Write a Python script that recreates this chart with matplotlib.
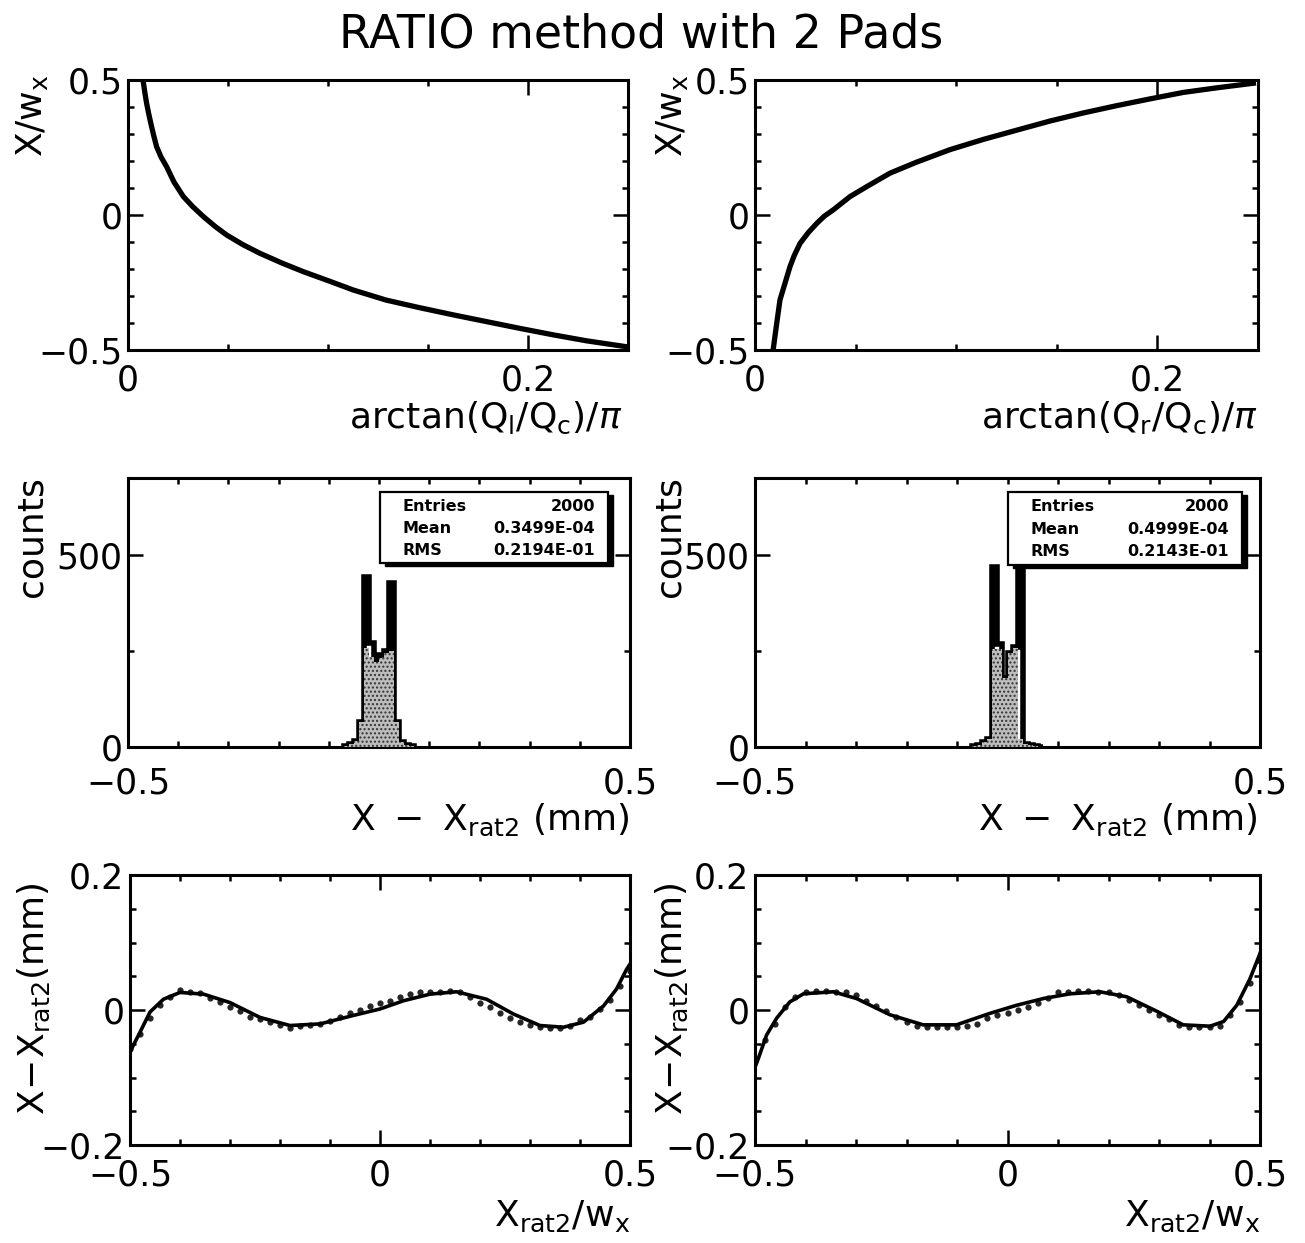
import matplotlib
matplotlib.use("Agg")
import matplotlib.pyplot as plt
from matplotlib.ticker import MultipleLocator, FixedLocator, FuncFormatter
from matplotlib.patches import Rectangle

# ---------------- data ----------------
# top-left: X/w_x vs arctan(Ql/Qc)/pi
tl_x = [0.0077, 0.0085, 0.0093, 0.0105, 0.0118, 0.0130, 0.0143, 0.0165, 0.0193, 0.0230, 0.0277,
        0.0325, 0.0377, 0.0435, 0.0493, 0.0575, 0.0660, 0.0770, 0.0877, 0.1000, 0.1127,
        0.1290, 0.1450, 0.1627, 0.1800, 0.1960, 0.2127, 0.2293, 0.2493]
tl_y = [0.490, 0.450, 0.414, 0.370, 0.327, 0.290, 0.253, 0.215, 0.179, 0.122, 0.068,
        0.030, -0.006, -0.042, -0.074, -0.110, -0.142, -0.178, -0.210, -0.243, -0.278,
        -0.315, -0.342, -0.370, -0.396, -0.420, -0.444, -0.466, -0.488]
# top-right: X/w_x vs arctan(Qr/Qc)/pi
tr_x = [0.0091, 0.0100, 0.0108, 0.0116, 0.0124, 0.0136, 0.0149, 0.0174, 0.0195, 0.0224, 0.0265,
        0.0307, 0.0345, 0.0389, 0.0472, 0.0555, 0.0671, 0.0804, 0.0969, 0.1135, 0.1300,
        0.1466, 0.1632, 0.1798, 0.1963, 0.2129, 0.2295, 0.2477]
tr_y = [-0.495, -0.445, -0.401, -0.358, -0.315, -0.285, -0.253, -0.191, -0.150, -0.105, -0.065,
        -0.031, -0.004, 0.019, 0.068, 0.105, 0.155, 0.196, 0.242, 0.280, 0.314,
        0.348, 0.378, 0.405, 0.430, 0.454, 0.471, 0.488]

# middle row histograms (bin edges in X - Xrat2 mm)
hist_edges = [-0.07, -0.06, -0.05, -0.04, -0.03, -0.02, -0.01, 0.00,
              0.01, 0.02, 0.03, 0.04, 0.05, 0.06, 0.07]
ml_total = [3, 8, 15, 65, 443, 270, 225, 240, 250, 427, 65, 12, 6, 3]
ml_fill = [3, 8, 15, 65, 258, 235, 222, 232, 245, 250, 65, 12, 6, 3]
mr_total = [3, 6, 12, 22, 469, 268, 180, 245, 260, 520, 8, 5, 3, 1]
mr_fill = [3, 6, 12, 22, 255, 255, 180, 245, 258, 20, 8, 5, 3, 1]
ml_stats = [("Entries", "2000"), ("Mean", "0.3499E-04"), ("RMS", "0.2194E-01")]
mr_stats = [("Entries", "2000"), ("Mean", "0.4999E-04"), ("RMS", "0.2143E-01")]

# bottom row: fit curves and data points
bl_fit_x = [-0.500, -0.480, -0.460, -0.433, -0.400, -0.353, -0.300, -0.240, -0.180, -0.120,
            -0.053, 0.000, 0.047, 0.100, 0.153, 0.213, 0.267, 0.320, 0.367, 0.407, 0.447,
            0.473, 0.493, 0.500]
bl_fit_y = [-0.062, -0.033, -0.003, 0.016, 0.026, 0.0235, 0.011, -0.011, -0.023, -0.0206,
            -0.008, 0.0015, 0.0137, 0.0235, 0.027, 0.016, -0.006, -0.023, -0.0255, -0.018,
            0.006, 0.031, 0.060, 0.068]
br_fit_x = [-0.500, -0.493, -0.477, -0.457, -0.431, -0.404, -0.345, -0.299, -0.233, -0.167,
            -0.101, -0.035, 0.018, 0.071, 0.124, 0.183, 0.236, 0.296, 0.348, 0.401, 0.428,
            0.454, 0.480, 0.497, 0.500]
br_fit_y = [-0.085, -0.071, -0.037, -0.012, 0.012, 0.024, 0.027, 0.017, -0.007, -0.022,
            -0.022, -0.005, 0.007, 0.017, 0.024, 0.027, 0.0196, -0.002, -0.022, -0.024, -0.017,
            0.007, 0.046, 0.078, 0.084]

pts_x = [-0.50, -0.48, -0.46, -0.44, -0.42, -0.40, -0.38, -0.36, -0.34, -0.32, -0.30,
         -0.28, -0.26, -0.24, -0.22, -0.20, -0.18, -0.16, -0.14, -0.12, -0.10,
         -0.08, -0.06, -0.04, -0.02, 0.00, 0.02, 0.04, 0.06, 0.08, 0.10,
         0.12, 0.14, 0.16, 0.18, 0.20, 0.22, 0.24, 0.26, 0.28, 0.30,
         0.32, 0.34, 0.36, 0.38, 0.40, 0.42, 0.44, 0.46, 0.48, 0.50]
bl_pts_y = [-0.058, -0.035, -0.012, 0.008, 0.020, 0.030, 0.027, 0.025, 0.018, 0.012, 0.005,
            -0.002, -0.010, -0.014, -0.018, -0.022, -0.026, -0.024, -0.022, -0.020, -0.016,
            -0.010, -0.004, 0.000, 0.006, 0.010, 0.014, 0.020, 0.024, 0.026, 0.027,
            0.027, 0.028, 0.026, 0.020, 0.010, 0.004, -0.004, -0.012, -0.018, -0.022,
            -0.025, -0.026, -0.026, -0.024, -0.015, -0.010, 0.002, 0.015, 0.035, 0.058]
br_pts_y = [-0.075, -0.045, -0.020, 0.004, 0.020, 0.027, 0.028, 0.028, 0.027, 0.026, 0.022,
            0.014, 0.006, -0.002, -0.010, -0.018, -0.024, -0.025, -0.025, -0.025, -0.025,
            -0.024, -0.020, -0.012, -0.008, -0.004, 0.000, 0.004, 0.010, 0.018, 0.026,
            0.027, 0.028, 0.028, 0.027, 0.026, 0.022, 0.015, 0.008, 0.000, -0.008,
            -0.014, -0.022, -0.025, -0.025, -0.025, -0.024, -0.008, 0.012, 0.040, 0.072]

# ---------------- figure ----------------
W, H = 1305, 1243
fig = plt.figure(figsize=(W / 100, H / 100), dpi=100)
plt.rcParams['mathtext.fontset'] = 'dejavusans'

def px_ax(l, r, t, b):
    return fig.add_axes([l / W, 1 - b / H, (r - l) / W, (b - t) / H])

def fmt(v, pos):
    s = '%g' % round(v, 6)
    return s.replace('-', '\u2212')

TICKFS = 25

def style(ax, xpad=10):
    for sp in ax.spines.values():
        sp.set_linewidth(2.2)
    ax.tick_params(which='both', direction='in', top=True, right=True, width=1.8,
                   labelsize=TICKFS)
    ax.tick_params(which='major', length=11)
    ax.tick_params(which='minor', length=4.5)
    ax.tick_params(axis='x', which='major', pad=xpad)
    ax.tick_params(axis='y', which='major', pad=4)
    ax.xaxis.set_major_formatter(FuncFormatter(fmt))
    ax.yaxis.set_major_formatter(FuncFormatter(fmt))

def ftext(px, py, s, **kw):
    fig.text(px / W, 1 - py / H, s, **kw)

LBLFS = 26

# top row
ax1 = px_ax(128, 628, 80, 350)
ax2 = px_ax(755, 1258, 80, 350)
for ax, xs, ys in [(ax1, tl_x, tl_y), (ax2, tr_x, tr_y)]:
    ax.plot(xs, ys, color='black', lw=3.8, solid_joinstyle='round')
    ax.set_xlim(0, 0.25)
    ax.set_ylim(-0.5, 0.5)
    ax.xaxis.set_major_locator(MultipleLocator(0.2))
    ax.xaxis.set_minor_locator(MultipleLocator(0.05))
    ax.yaxis.set_major_locator(MultipleLocator(0.5))
    ax.yaxis.set_minor_locator(MultipleLocator(0.1))
    style(ax)

# middle row
ax3 = px_ax(128, 630, 478, 747)
ax4 = px_ax(755, 1260, 478, 747)
for ax, tot, fil, stats, box in [(ax3, ml_total, ml_fill, ml_stats, (0.502, 0.684, 0.454, 0.264)),
                                 (ax4, mr_total, mr_fill, mr_stats, (0.501, 0.677, 0.463, 0.271))]:
    ax.stairs(tot, hist_edges, color='black', lw=4.0, baseline=0, zorder=2)
    ax.stairs(fil, hist_edges, fill=True, facecolor='#bdbdbd', edgecolor='#333333',
              hatch='....', lw=0, baseline=0, zorder=3)
    ax.set_xlim(-0.5, 0.5)
    ax.set_ylim(0, 700)
    ax.xaxis.set_major_locator(FixedLocator([-0.5, 0.5]))
    ax.xaxis.set_minor_locator(MultipleLocator(0.1))
    ax.yaxis.set_major_locator(MultipleLocator(500))
    ax.yaxis.set_minor_locator(MultipleLocator(250))
    style(ax, xpad=14)
    bx, by, bw, bh = box
    # shadow
    ax.add_patch(Rectangle((bx + 0.010, by - 0.012), bw, bh, transform=ax.transAxes,
                           facecolor='black', edgecolor='black', zorder=5, clip_on=False))
    ax.add_patch(Rectangle((bx, by), bw, bh, transform=ax.transAxes,
                           facecolor='white', edgecolor='black', lw=1.6, zorder=6, clip_on=False))
    for i, (k, v) in enumerate(stats):
        yy = by + bh * (0.80 - 0.31 * i)
        ax.text(bx + 0.045, yy, k, transform=ax.transAxes, fontsize=11.5,
                fontweight='bold', ha='left', va='center', zorder=7)
        ax.text(bx + bw - 0.025, yy, v, transform=ax.transAxes, fontsize=11.5,
                fontweight='bold', ha='right', va='center', zorder=7)

# bottom row
ax5 = px_ax(130, 630, 875, 1145)
ax6 = px_ax(755, 1260, 875, 1145)
for ax, fx, fy, py in [(ax5, bl_fit_x, bl_fit_y, bl_pts_y), (ax6, br_fit_x, br_fit_y, br_pts_y)]:
    ax.plot(pts_x, py, linestyle='none', marker='o', ms=4.5, color='black',
            markeredgewidth=0, alpha=0.85, zorder=2)
    ax.plot(fx, fy, color='black', lw=2.6, zorder=3)
    ax.set_xlim(-0.5, 0.5)
    ax.set_ylim(-0.2, 0.2)
    ax.xaxis.set_major_locator(MultipleLocator(0.5))
    ax.xaxis.set_minor_locator(MultipleLocator(0.1))
    ax.yaxis.set_major_locator(MultipleLocator(0.2))
    ax.yaxis.set_minor_locator(MultipleLocator(0.05))
    style(ax)

# ---------------- labels ----------------
ftext(641, 35, 'RATIO method with 2 Pads', fontsize=33, ha='center', va='center')

ylab1 = r'$\mathrm{X/w_x}$'
ftext(32, 74, ylab1, fontsize=LBLFS, rotation=90, ha='center', va='top')
ftext(672, 74, ylab1, fontsize=LBLFS, rotation=90, ha='center', va='top')
ftext(32, 476, 'counts', fontsize=LBLFS, rotation=90, ha='center', va='top')
ftext(670, 476, 'counts', fontsize=LBLFS, rotation=90, ha='center', va='top')
ylab3 = r'$\mathrm{X\!-\!X_{rat2}(mm)}$'
ftext(34, 882, ylab3, fontsize=LBLFS, rotation=90, ha='center', va='top')
ftext(672, 882, ylab3, fontsize=LBLFS, rotation=90, ha='center', va='top')

ftext(622, 418, r'$\mathrm{arctan(Q_l/Q_c)/}\pi$', fontsize=LBLFS, ha='right', va='center')
ftext(1258, 418, r'$\mathrm{arctan(Q_r/Q_c)/}\pi$', fontsize=LBLFS, ha='right', va='center')
xl2 = r'$\mathrm{X\ -\ X_{rat2}\ (mm)}$'
ftext(630, 820, xl2, fontsize=LBLFS, ha='right', va='center')
ftext(1258, 820, xl2, fontsize=LBLFS, ha='right', va='center')
xl3 = r'$\mathrm{X_{rat2}/w_x}$'
ftext(630, 1216, xl3, fontsize=LBLFS, ha='right', va='center')
ftext(1260, 1216, xl3, fontsize=LBLFS, ha='right', va='center')

fig.savefig('out.png', dpi=100)
